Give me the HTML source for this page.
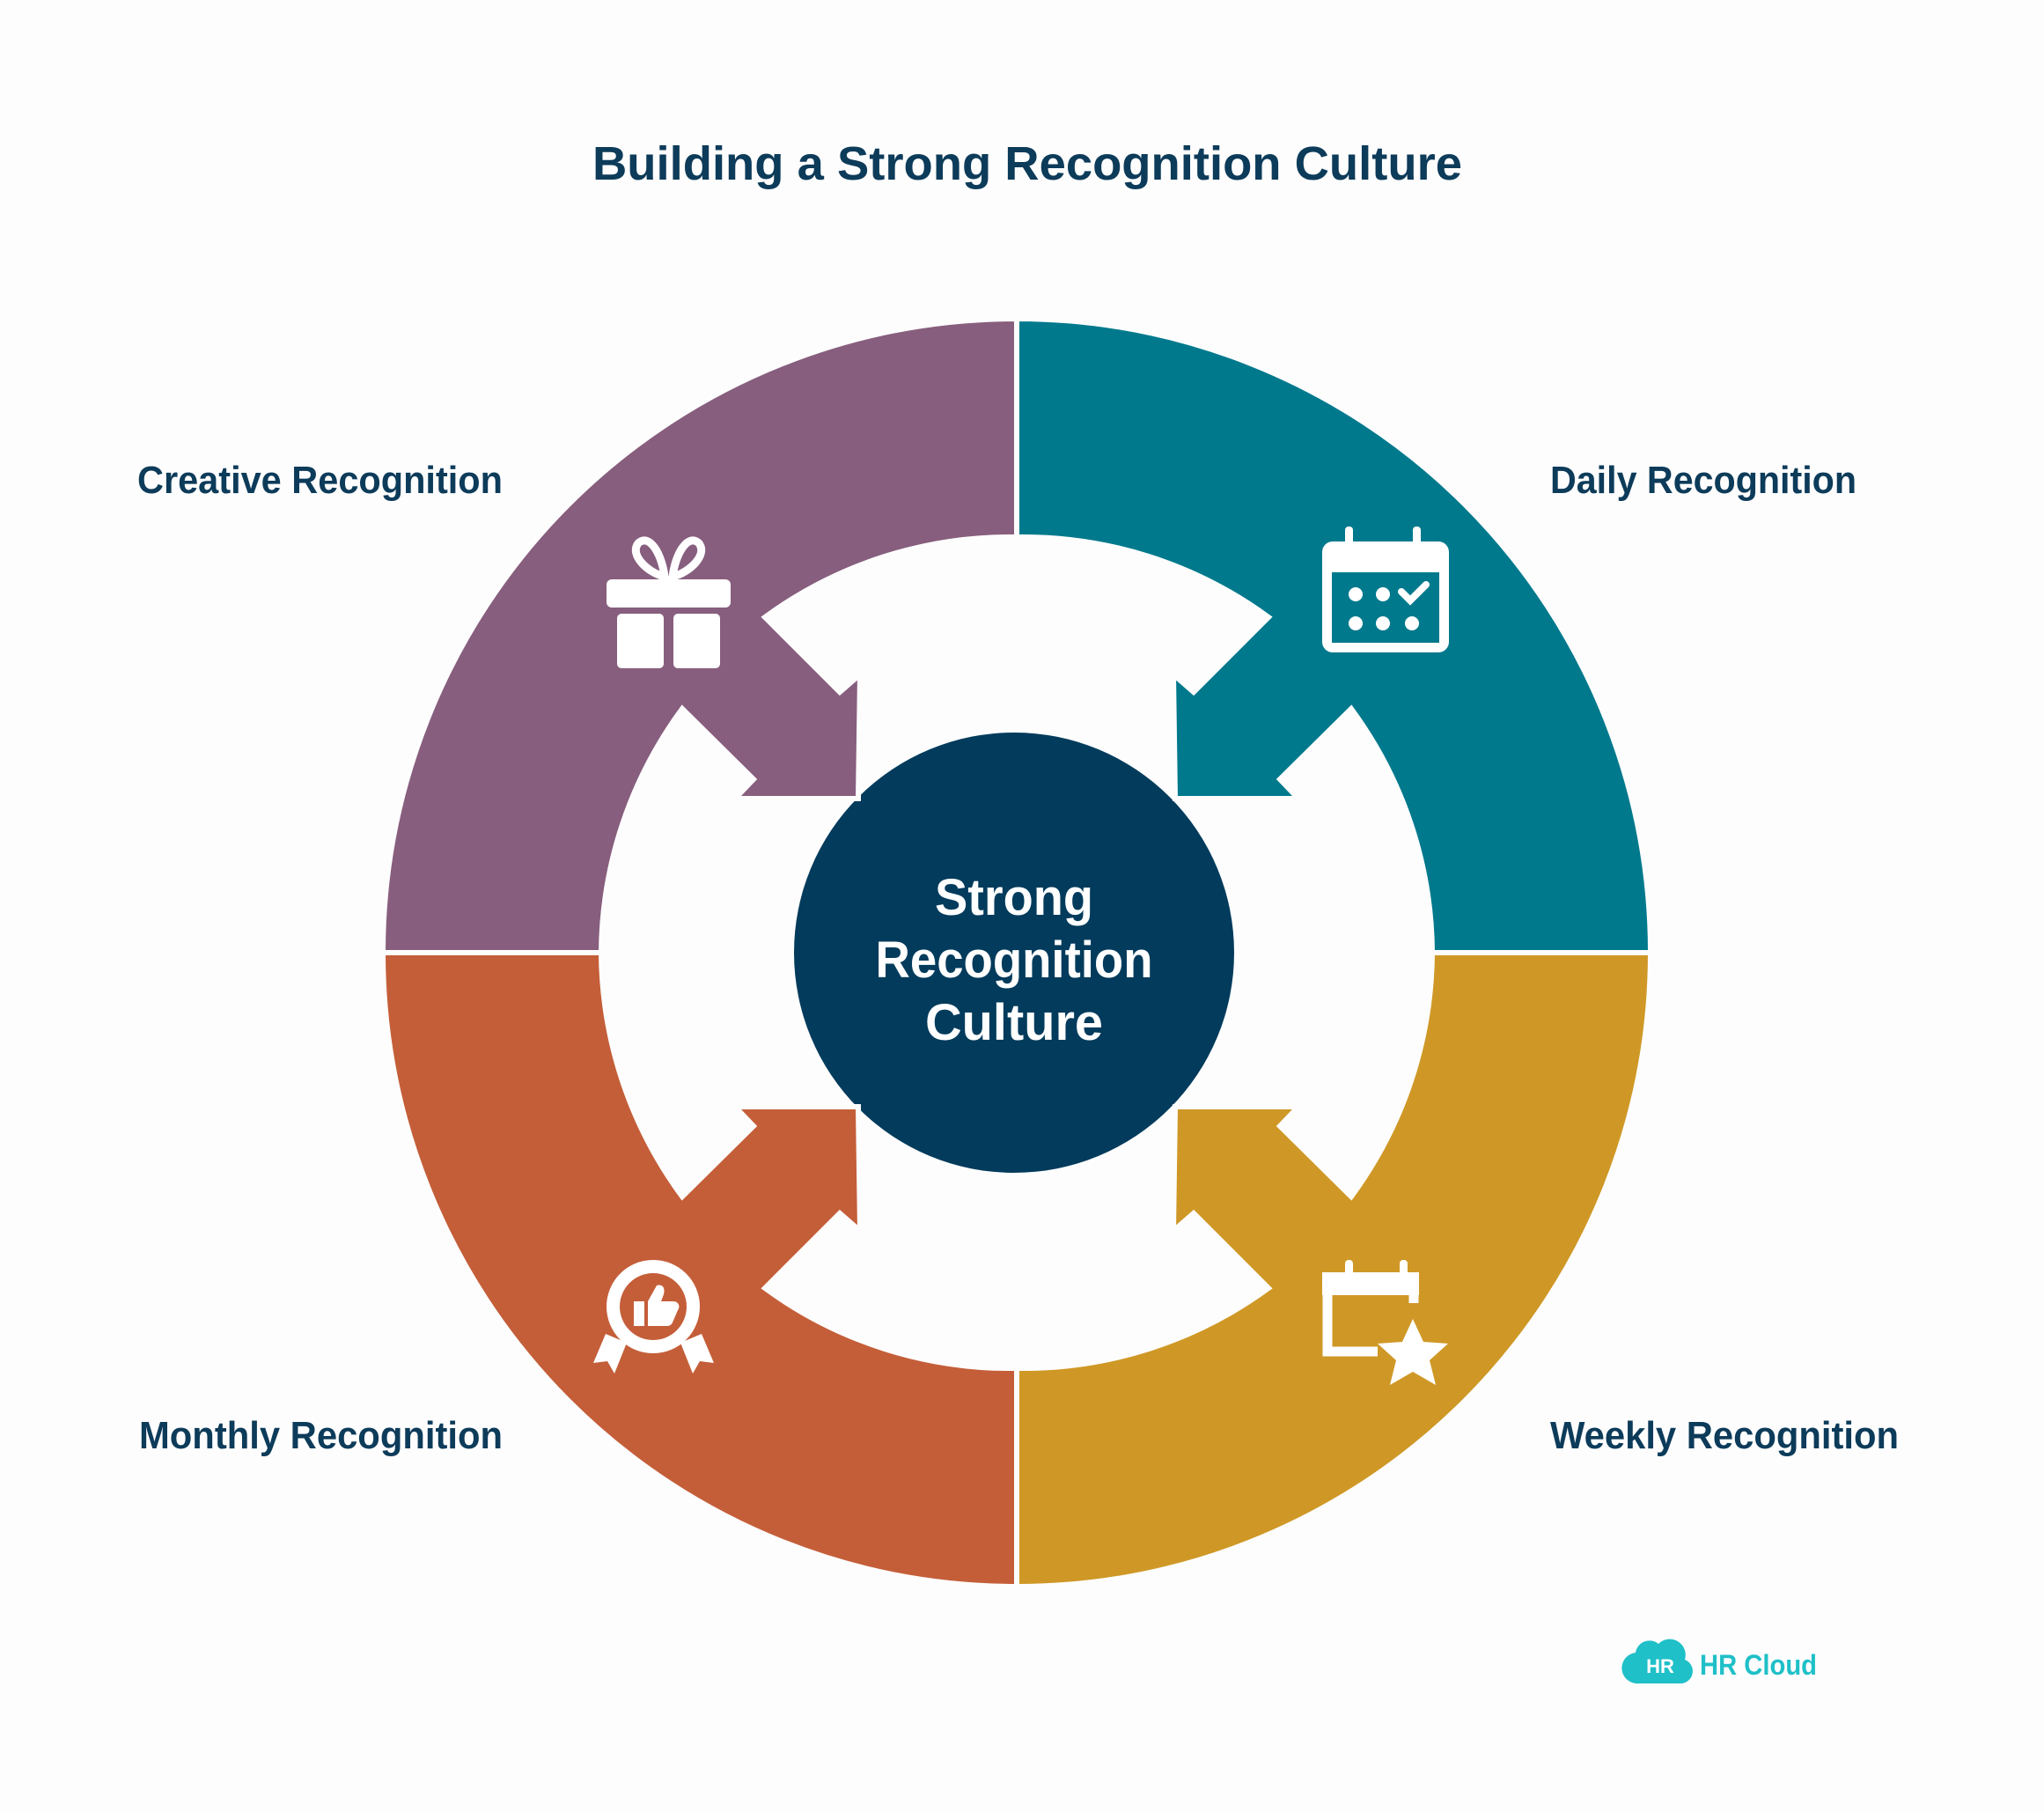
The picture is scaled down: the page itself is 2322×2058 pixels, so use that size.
<!DOCTYPE html>
<html><head><meta charset="utf-8"><style>
html,body{margin:0;padding:0;background:#fdfdfd;}
svg{display:block;}
text{font-family:"Liberation Sans",sans-serif;font-weight:bold;}
</style></head><body>
<svg width="2322" height="2058" viewBox="0 0 2322 2058" xmlns="http://www.w3.org/2000/svg">
<rect width="2322" height="2058" fill="#fdfdfd"/>
<text x="1167" y="204" font-size="54" fill="#0d3b5a" text-anchor="middle" textLength="988" lengthAdjust="spacingAndGlyphs">Building a Strong Recognition Culture</text>

<circle cx="1152" cy="1082" r="250" fill="#023b5c"/>

<g stroke="#fdfdfd" stroke-width="6" stroke-linejoin="miter">
<path fill="#875e7e" d="M435,1082 A720 720 0 0 1 1155,362 L1155,610 A472 472 0 0 0 869,701 L954,786 L977,766 L975,907 L835,907 L856,885 L775,805 A472 472 0 0 0 683,1082 Z"/>
<path fill="#00798d" d="M1875,1082 A720 720 0 0 0 1155,362 L1155,610 A472 472 0 0 1 1441,701 L1356,786 L1333,766 L1335,907 L1475,907 L1454,885 L1535,805 A472 472 0 0 1 1627,1082 Z"/>
<path fill="#c45e39" d="M435,1082 A720 720 0 0 0 1155,1802 L1155,1554 A472 472 0 0 1 869,1463 L954,1378 L977,1398 L975,1257 L835,1257 L856,1279 L775,1359 A472 472 0 0 1 683,1082 Z"/>
<path fill="#cf9826" d="M1875,1082 A720 720 0 0 1 1155,1802 L1155,1554 A472 472 0 0 0 1441,1463 L1356,1378 L1333,1398 L1335,1257 L1475,1257 L1454,1279 L1535,1359 A472 472 0 0 0 1627,1082 Z"/>
</g>

<g fill="#ffffff" text-anchor="middle" font-size="58">
<text x="1152" y="1039" textLength="180" lengthAdjust="spacingAndGlyphs">Strong</text>
<text x="1152" y="1110" textLength="315" lengthAdjust="spacingAndGlyphs">Recognition</text>
<text x="1152" y="1181" textLength="202" lengthAdjust="spacingAndGlyphs">Culture</text>
</g>

<g fill="#0d3b5a" font-size="44">
<text x="156" y="560" textLength="415" lengthAdjust="spacingAndGlyphs">Creative Recognition</text>
<text x="1761" y="560" textLength="348" lengthAdjust="spacingAndGlyphs">Daily Recognition</text>
<text x="158" y="1645" textLength="413" lengthAdjust="spacingAndGlyphs">Monthly Recognition</text>
<text x="1761" y="1645" textLength="396" lengthAdjust="spacingAndGlyphs">Weekly Recognition</text>
</g>

<!-- gift -->
<g fill="#fff">
<rect x="689" y="658" width="141" height="32" rx="6"/>
<rect x="701" y="697" width="53" height="62" rx="5"/>
<rect x="765" y="697" width="53" height="62" rx="5"/>
<path d="M755,655 C735,650 715,630 725,617 C738,605 752,630 755,655 Z" fill="none" stroke="#fff" stroke-width="9"/>
<path d="M764,655 C784,650 804,630 794,617 C781,605 767,630 764,655 Z" fill="none" stroke="#fff" stroke-width="9"/>
</g>
<!-- daily calendar -->
<g fill="#fff">
<rect x="1502" y="615" width="144" height="126" rx="12"/>
<rect x="1513" y="650" width="122" height="80" fill="#00798d"/>
<rect x="1528" y="598" width="9" height="32" rx="4"/>
<rect x="1605" y="598" width="9" height="32" rx="4"/>
<rect x="1530" y="612" width="9" height="0"/>
<circle cx="1540" cy="675" r="8"/><circle cx="1571" cy="675" r="8"/>
<circle cx="1540" cy="708" r="8"/><circle cx="1571" cy="708" r="8"/><circle cx="1604" cy="708" r="8"/>
<path d="M1592,672 L1602,682 L1620,664" fill="none" stroke="#fff" stroke-width="8" stroke-linecap="round"/>
</g>
<!-- award -->
<g fill="#fff">
<path d="M688,1515 L674,1548 L690,1546 L698,1560 L712,1525 Z"/>
<path d="M797,1515 L811,1548 L795,1546 L787,1560 L773,1525 Z"/>
<circle cx="742" cy="1484" r="53"/>
<circle cx="742" cy="1484" r="38" fill="#c45e39"/>
<path d="M720,1478 h12 v28 h-12 z M736,1478 l10,-18 c6,-2 10,2 8,10 l-3,8 h14 c6,0 8,6 5,10 l-6,14 c-2,4 -5,4 -8,4 h-20 z"/>
</g>
<!-- weekly calendar star -->
<g fill="none" stroke="#fff" stroke-width="11">
<path d="M1565,1535 L1508,1535 L1508,1452 L1606,1452 L1606,1480"/>
</g>
<g fill="#fff">
<rect x="1502" y="1445" width="110" height="26"/>
<rect x="1528" y="1431" width="9" height="30" rx="4"/>
<rect x="1590" y="1431" width="9" height="30" rx="4"/>
<path d="M1605,1498 L1617,1524 L1645,1526 L1624,1545 L1631,1573 L1605,1558 L1579,1573 L1586,1545 L1565,1526 L1593,1524 Z"/>
</g>

<!-- logo -->
<g>
<path d="M1862,1912 h48 a14 14 0 0 0 4,-27 a18 18 0 0 0 -30,-18 a16 16 0 0 0 -26,10 a14 14 0 0 0 4,35 z" fill="#1fc0c8"/>
<text x="1886" y="1900" font-size="22" fill="#fff" text-anchor="middle">HR</text>
<text x="1931" y="1902" font-size="32" fill="#1fc0c8" textLength="133" lengthAdjust="spacingAndGlyphs">HR Cloud</text>
</g>
</svg>
</body></html>
